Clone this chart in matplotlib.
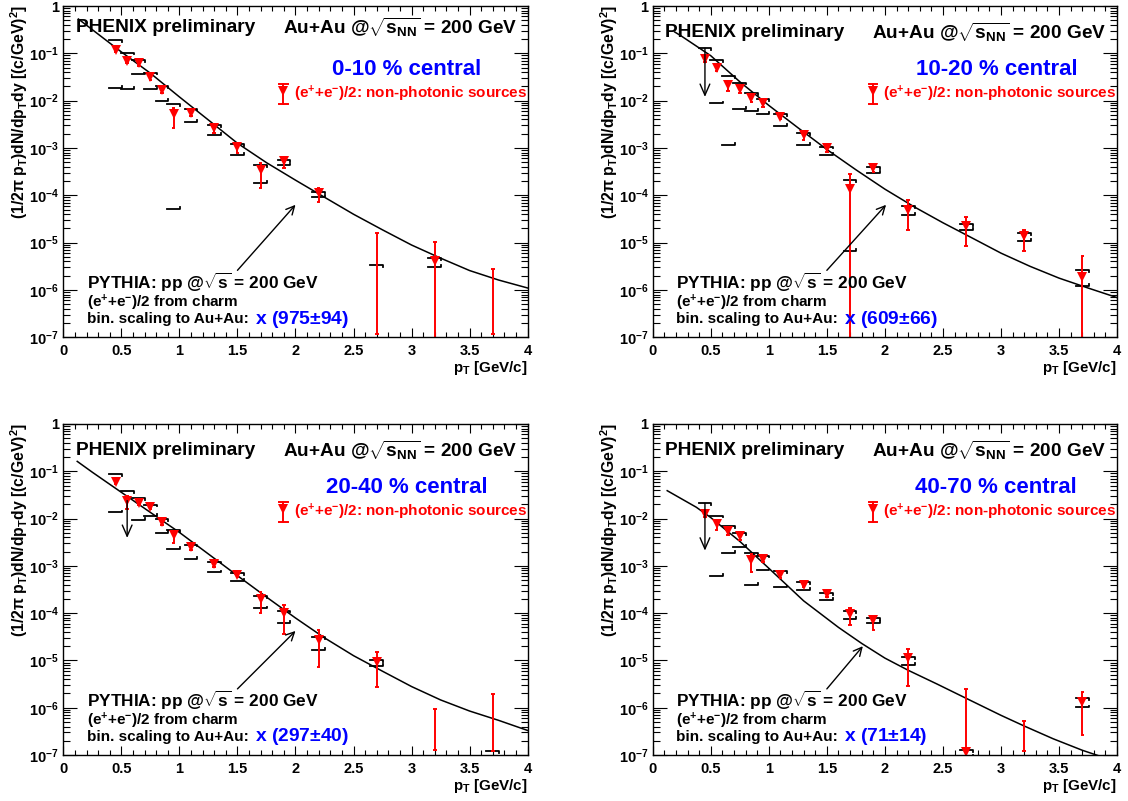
import numpy as np
import matplotlib
matplotlib.use('Agg')
import matplotlib.pyplot as plt
from matplotlib.ticker import MultipleLocator, FixedLocator, FuncFormatter, NullFormatter

plt.rcParams['font.family'] = ['Liberation Sans', 'DejaVu Sans']
plt.rcParams['font.weight'] = 'bold'
plt.rcParams['mathtext.fontset'] = 'custom'
plt.rcParams['mathtext.rm'] = 'Liberation Sans:bold'
plt.rcParams['mathtext.it'] = 'Liberation Sans:bold'
plt.rcParams['mathtext.bf'] = 'Liberation Sans:bold'
plt.rcParams['mathtext.sf'] = 'Liberation Sans:bold'

nan = np.nan

# pT bin centres [GeV/c]
pt = [0.45, 0.55, 0.65, 0.75, 0.85, 0.95, 1.1, 1.3, 1.5, 1.7, 1.9, 2.2, 2.7, 3.2, 3.7]

# 0-10 % central
y_010 = [0.12, 0.069, 0.061, 0.031, 0.017, 0.0051, 0.0056, 0.0026, 0.00107, 3.5e-4, 5.3e-4, 1.14e-4, nan, 4.0e-6, nan]
stat_hi_010 = [0.14, 0.078, 0.07, 0.036, 0.02, 0.0069, 0.0066, 0.0031, 0.0013, 4.9e-4, 5.9e-4, 1.4e-4, 1.6e-5, 1.05e-5, 2.8e-6]
stat_lo_010 = [0.105, 0.062, 0.053, 0.027, 0.0145, 0.0027, 0.0048, 0.0021, 7.8e-4, 1.4e-4, 3.8e-4, 7.2e-5, 1.2e-7, 9e-8, 1.2e-7]
sys_hi_010 = [0.19, 0.103, 0.072, 0.039, 0.0204, 0.0083, 0.0068, 0.003, 0.0012, 4.3e-4, 5.6e-4, 1.2e-4, 3.4e-6, 4.8e-6, nan]
sys_lo_010 = [0.0186, 0.0177, 0.036, 0.0174, 0.0098, 5.2e-5, 0.0036, 0.0019, 7.2e-4, 1.86e-4, 4.3e-4, 9.1e-5, nan, 3.1e-6, nan]

# 10-20 % central
y_1020 = [0.075, 0.048, 0.021, 0.0174, 0.0112, 0.0088, 0.0046, 0.0019, 0.00098, 1.34e-4, 3.7e-4, 5.0e-5, 2.24e-5, 1.38e-5, 1.9e-6]
stat_hi_1020 = [0.085, 0.055, 0.026, 0.021, 0.013, 0.0102, 0.0052, 0.0022, 0.00112, 2.8e-4, 4.3e-4, 7.9e-5, 3.4e-5, 1.86e-5, 5.2e-6]
stat_lo_1020 = [0.066, 0.042, 0.016, 0.0145, 0.0094, 0.0074, 0.004, 0.00145, 8.4e-4, 9e-8, 3.1e-4, 1.85e-5, 8.7e-6, 6.8e-6, 9e-8]
sys_hi_1020 = [0.128, 0.072, 0.033, 0.024, 0.0143, 0.0107, 0.0052, 0.00204, 0.00107, 2.1e-4, 4.0e-4, 5.9e-5, 2.5e-5, 1.58e-5, 2.6e-6]
sys_lo_1020 = [nan, 0.0088, 0.00115, 0.0068, 0.006, 0.0052, 0.0029, 0.00115, 7.1e-4, 6.8e-6, 3.0e-4, 3.8e-5, 1.86e-5, 1.1e-5, 1.23e-6]

# 20-40 % central
y_2040 = [0.060, 0.024, 0.0214, 0.0178, 0.0083, 0.0044, 0.0025, 0.00107, 6.5e-4, 2.0e-4, 1.0e-4, 2.7e-5, 9.2e-6, nan, nan]
stat_hi_2040 = [0.068, 0.03, 0.024, 0.02, 0.0095, 0.0052, 0.0028, 0.0012, 7.2e-4, 2.8e-4, 1.5e-4, 4.3e-5, 1.5e-5, 9.3e-7, 1.96e-6]
stat_lo_2040 = [0.053, 0.016, 0.019, 0.0158, 0.0074, 0.0031, 0.0022, 9.3e-4, 5.8e-4, 1.0e-4, 3.6e-5, 7.2e-6, 2.7e-6, 1.25e-7, 1.2e-7]
sys_hi_2040 = [0.088, 0.038, 0.027, 0.0197, 0.0098, 0.0056, 0.0028, 0.00123, 7.1e-4, 2.3e-4, 1.13e-4, 3.1e-5, 1.02e-5, nan, 1.2e-7]
sys_lo_2040 = [0.0135, nan, 0.0093, 0.0115, 0.0049, 0.0023, 0.00138, 7.3e-4, 4.9e-4, 1.26e-4, 6.3e-5, 1.66e-5, 7.6e-6, nan, nan]

# 40-70 % central
y_4070 = [0.0125, 0.0077, 0.0054, 0.0042, 0.00133, 0.0014, 6.5e-4, 4.0e-4, 2.55e-4, 9.6e-5, 7.3e-5, 1.11e-5, 1.15e-7, nan, 1.31e-6]
stat_hi_4070 = [0.015, 0.0095, 0.0062, 0.0048, 0.0018, 0.0016, 7.3e-4, 4.5e-4, 2.9e-4, 1.29e-4, 8.9e-5, 1.74e-5, 2.5e-6, 5.2e-7, 2.2e-6]
stat_lo_4070 = [0.011, 0.0057, 0.0046, 0.0036, 7.3e-4, 0.0012, 5.6e-4, 3.5e-4, 2.2e-4, 5.5e-5, 4.5e-5, 2.9e-6, 9e-8, 1.2e-7, 2.6e-7]
sys_hi_4070 = [0.021, 0.0115, 0.0069, 0.005, 0.00185, 0.00165, 7.6e-4, 4.5e-4, 2.7e-4, 1.1e-4, 7.8e-5, 1.17e-5, 1.25e-7, nan, 1.58e-6]
sys_lo_4070 = [nan, 6.2e-4, 0.0019, 0.0025, 4.0e-4, 8.0e-4, 3.5e-4, 3.1e-4, 1.9e-4, 7.6e-5, 6.2e-5, 8.2e-6, 9e-8, nan, 1.02e-6]

# PYTHIA charm curves (binary-scaled)
pythia_x_010 = [0.13, 0.25, 0.5, 0.75, 1.0, 1.25, 1.5, 1.75, 2.0, 2.25, 2.5, 2.75, 3.0, 3.25, 3.5, 3.75, 4.0]
pythia_y_010 = [0.531, 0.316, 0.107, 0.038, 0.012, 3.9e-3, 1.26e-3, 4.9e-4, 2.09e-4, 9.1e-5, 3.98e-5, 1.86e-5, 8.9e-6, 4.7e-6, 2.57e-6, 1.62e-6, 1.1e-6]
pythia_x_1020 = [0.19, 0.25, 0.5, 0.75, 1.0, 1.25, 1.5, 1.75, 2.0, 2.25, 2.5, 2.75, 3.0, 3.25, 3.5, 3.75, 4.0]
pythia_y_1020 = [0.282, 0.229, 0.0891, 0.0251, 7.94e-3, 2.69e-3, 9.3e-4, 3.47e-4, 1.35e-4, 5.75e-5, 2.63e-5, 1.26e-5, 6.0e-6, 3.16e-6, 1.78e-6, 1.1e-6, 6.9e-7]
pythia_x_2040 = [0.12, 0.25, 0.5, 0.75, 1.0, 1.25, 1.5, 1.75, 2.0, 2.25, 2.5, 2.75, 3.0, 3.25, 3.5, 3.75, 4.0]
pythia_y_2040 = [0.162, 0.0955, 0.0359, 0.0135, 5.1e-3, 1.78e-3, 6.2e-4, 2.19e-4, 7.9e-5, 3.0e-5, 1.26e-5, 5.9e-6, 2.8e-6, 1.46e-6, 8.5e-7, 5.4e-7, 3.3e-7]
pythia_x_4070 = [0.125, 0.25, 0.375, 0.5, 0.75, 1.0, 1.1, 1.3, 1.6, 1.8, 2.0, 2.2, 2.45, 2.7, 3.0, 3.2, 3.45, 3.7, 3.86]
pythia_y_4070 = [0.0389, 0.026, 0.0174, 0.0105, 3.3e-3, 8.9e-4, 5.25e-4, 1.82e-4, 5.0e-5, 2.29e-5, 1.12e-5, 6.2e-6, 3.16e-6, 1.58e-6, 6.9e-7, 4.1e-7, 2.2e-7, 1.26e-7, 9.3e-8]

centralities = ['0-10 % central', '10-20 % central', '20-40 % central', '40-70 % central']
scalings = ['x (975$\\pm$94)', 'x (609$\\pm$66)', 'x (297$\\pm$40)', 'x (71$\\pm$14)']

# PYTHIA label arrow (tail, head) and upper-limit arrows (pT, from, to)
pythia_arrows = [((1.5, 2.6e-6), (2.0, 6.3e-5)),
                 ((1.5, 2.6e-6), (2.01, 6.3e-5)),
                 ((1.5, 2.5e-6), (2.0, 4.2e-5)),
                 ((1.5, 2.5e-6), (1.81, 2.0e-5))]
limit_arrows = [None, (0.45, 0.128, 0.012), (0.55, 0.024, 0.0039), (0.45, 0.021, 0.0021)]

# axes boxes in pixels: left, top, width, height
boxes = [(63.3, 6, 464.4, 331.3), (652.7, 6, 464.4, 331.3),
         (63.3, 424, 464.4, 331), (652.7, 424, 464.4, 331)]
title_y = [0.934, 0.921, 0.92, 0.92]

W, H = 1128, 801
fig = plt.figure(figsize=(W / 100, H / 100), dpi=100)

panels = [
    (y_010, stat_hi_010, stat_lo_010, sys_hi_010, sys_lo_010, pythia_x_010, pythia_y_010),
    (y_1020, stat_hi_1020, stat_lo_1020, sys_hi_1020, sys_lo_1020, pythia_x_1020, pythia_y_1020),
    (y_2040, stat_hi_2040, stat_lo_2040, sys_hi_2040, sys_lo_2040, pythia_x_2040, pythia_y_2040),
    (y_4070, stat_hi_4070, stat_lo_4070, sys_hi_4070, sys_lo_4070, pythia_x_4070, pythia_y_4070),
]


def yfmt(v, pos):
    e = int(round(np.log10(v)))
    if e == 0:
        return '1'
    return r'$10^{%d}$' % e


major_y = [10.0 ** -k for k in range(8)]
minor_y = [m * 10.0 ** -k for k in range(1, 8) for m in range(2, 10)]

for i, (yv, shi, slo, syh, syl, cx, cy) in enumerate(panels):
    l, t, w, h = boxes[i]
    ax = fig.add_axes([l / W, 1 - (t + h) / H, w / W, h / H])
    ax.set_yscale('log')

    x = np.array(pt)
    hw = 0.055
    # systematic brackets
    for xi, hi, lo in zip(x, syh, syl):
        if not np.isnan(hi):
            ax.plot([xi - hw, xi + hw, xi + hw], [hi, hi, hi / 1.09], color='black', lw=1.3)
        if not np.isnan(lo):
            ax.plot([xi - hw, xi + hw, xi + hw], [lo, lo, lo * 1.09], color='black', lw=1.3)

    # PYTHIA curve
    ax.plot(cx, cy, color='black', lw=1.1)

    # statistical errors and points
    ax.vlines(x, slo, shi, color='red', lw=1.4)
    ax.hlines(shi, x - 0.015, x + 0.015, color='red', lw=1.4)
    ax.hlines(slo, x - 0.015, x + 0.015, color='red', lw=1.4)
    ax.plot(x, yv, 'v', color='red', ms=7, mew=0)

    # arrows
    (tx, ty), (hx, hy) = pythia_arrows[i]
    ax.annotate('', xy=(hx, hy), xytext=(tx, ty),
                arrowprops=dict(arrowstyle='->,head_length=0.6,head_width=0.3', color='black', lw=1,
                                shrinkA=0, shrinkB=0))
    if limit_arrows[i] is not None:
        lx, ly0, ly1 = limit_arrows[i]
        ax.annotate('', xy=(lx, ly1), xytext=(lx, ly0),
                    arrowprops=dict(arrowstyle='->,head_length=0.8,head_width=0.35', color='black', lw=1,
                                    shrinkA=0, shrinkB=0))

    ax.set_xlim(0, 4)
    ax.set_ylim(1e-7, 1)

    # ticks
    ax.xaxis.set_major_locator(MultipleLocator(0.5))
    ax.xaxis.set_minor_locator(MultipleLocator(0.1))
    ax.xaxis.set_major_formatter(FuncFormatter(lambda v, p: '%g' % v))
    ax.yaxis.set_major_locator(FixedLocator(major_y))
    ax.yaxis.set_minor_locator(FixedLocator(minor_y))
    ax.yaxis.set_major_formatter(FuncFormatter(yfmt))
    ax.yaxis.set_minor_formatter(NullFormatter())
    ax.tick_params(which='both', direction='in', top=True, right=True, width=0.8)
    ax.tick_params(axis='x', which='major', length=6.5, labelsize=10.5, pad=5)
    ax.tick_params(axis='x', which='minor', length=3.4)
    ax.tick_params(axis='y', which='major', length=10, labelsize=10.5, pad=3)
    ax.tick_params(axis='y', which='minor', length=5)
    for sp in ax.spines.values():
        sp.set_linewidth(1)

    # texts
    ax.text(0.027, title_y[i], 'PHENIX preliminary', transform=ax.transAxes,
            fontsize=13.8, va='center', ha='left')
    ax.text(0.473, title_y[i], r'Au+Au @$\sqrt{s_{NN}}$ = 200 GeV', transform=ax.transAxes,
            fontsize=13.7, va='center', ha='left')
    ax.text(0.74, 0.807, centralities[i], transform=ax.transAxes, fontsize=16,
            color='#0000ff', va='center', ha='center')
    # legend entry
    ax.plot([0.474, 0.474], [0.704, 0.764], transform=ax.transAxes, color='red', lw=1.4)
    ax.plot([0.465, 0.483], [0.704, 0.704], transform=ax.transAxes, color='red', lw=1.4)
    ax.plot([0.465, 0.483], [0.764, 0.764], transform=ax.transAxes, color='red', lw=1.4)
    ax.plot([0.474], [0.744], 'v', transform=ax.transAxes, color='red', ms=7, mew=0)
    ax.text(0.496, 0.734, r'(e$^{+}$+e$^{-}$)/2: non-photonic sources', transform=ax.transAxes,
            fontsize=11, color='red', va='center', ha='left')

    ax.text(0.05, 0.166, r'PYTHIA: pp @$\sqrt{s}$ = 200 GeV', transform=ax.transAxes,
            fontsize=12.4, va='center', ha='left')
    ax.text(0.05, 0.104, r'(e$^{+}$+e$^{-}$)/2 from charm', transform=ax.transAxes,
            fontsize=11, va='center', ha='left')
    ax.text(0.05, 0.055, 'bin. scaling to Au+Au:', transform=ax.transAxes,
            fontsize=11, va='center', ha='left')
    ax.text(0.412, 0.055, scalings[i], transform=ax.transAxes,
            fontsize=13.9, color='#0000ff', va='center', ha='left')

    ax.text(1.0, -0.093, r'p$_{T}$ [GeV/c]', transform=ax.transAxes,
            fontsize=10.9, va='center', ha='right')
    fig.text((l - 43.7) / W, 1 - (t - 1) / H, r'(1/2$\pi$ p$_{T}$)dN/dp$_{T}$dy [(c/GeV)$^{2}$]',
             rotation=90, fontsize=11.3, va='top', ha='center')

fig.savefig('out.png', dpi=100, facecolor='white')
